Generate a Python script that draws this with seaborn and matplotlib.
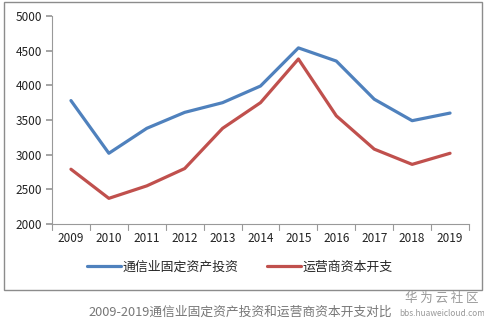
import matplotlib
matplotlib.use("Agg")
import matplotlib.pyplot as plt
import seaborn as sns
import pandas as pd
from matplotlib.patches import Rectangle

years = ["2009", "2010", "2011", "2012", "2013", "2014", "2015", "2016", "2017", "2018", "2019"]
telecom_invest = [3780, 3020, 3380, 3610, 3750, 3990, 4540, 4350, 3800, 3490, 3600]
operator_capex = [2790, 2370, 2550, 2800, 3380, 3750, 4380, 3560, 3080, 2860, 3020]
series_names = ["通信业固定资产投资", "运营商资本开支"]
yticks = [2000, 2500, 3000, 3500, 4000, 4500, 5000]
caption = "2009-2019通信业固定资产投资和运营商资本开支对比"

sns.set_theme(style="white")
plt.rcParams['font.family'] = ['Noto Sans CJK SC', 'DejaVu Sans']

df = pd.DataFrame({
    "year": years * 2,
    "value": telecom_invest + operator_capex,
    "series": [series_names[0]] * len(years) + [series_names[1]] * len(years),
})
df["x"] = list(range(len(years))) * 2

W, H = 485, 329
fig = plt.figure(figsize=(W / 100, H / 100), dpi=100)
fig.patches.append(Rectangle((4 / W, 1 - 290 / H), 478 / W, 288 / H, transform=fig.transFigure,
                             fill=False, edgecolor="#8c8c8c", linewidth=1.0))

ax = fig.add_axes([52 / W, 1 - 224 / H, (469 - 52) / W, (224 - 16) / H])
palette = {series_names[0]: "#4F81BD", series_names[1]: "#C0504D"}
sns.lineplot(data=df, x="x", y="value", hue="series", palette=palette, linewidth=2.3,
             ax=ax, legend=True)

ax.set_xlim(-0.5, len(years) - 0.5)
ax.set_ylim(2000, 5000)
ax.set_yticks(yticks)
ax.set_yticklabels([str(v) for v in yticks], fontsize=8.5, color="#222222")
ax.set_xticks(range(len(years)))
ax.set_xticklabels(years, fontsize=8.5, color="#222222")
ax.set_xlabel("")
ax.set_ylabel("")
ax.tick_params(axis="x", length=0, pad=6)
ax.tick_params(axis="y", length=4, left=True, color="#999999", pad=3)
for b in [i - 0.5 for i in range(len(years) + 1)]:
    ax.plot([b, b], [0, -0.03], transform=ax.get_xaxis_transform(), color="#999999",
            linewidth=0.8, clip_on=False)
for s in ["top", "right"]:
    ax.spines[s].set_visible(False)
for s in ["left", "bottom"]:
    ax.spines[s].set_color("#999999")
    ax.spines[s].set_linewidth(0.8)

leg = ax.legend(loc="center", bbox_to_anchor=(240 / W, 1 - 267 / H), bbox_transform=fig.transFigure,
                ncol=2, frameon=False, fontsize=9.3, handlelength=2.6, handletextpad=0.15,
                columnspacing=2.2)

fig.text(240 / W, 1 - 312 / H, caption, ha="center", va="center", fontsize=9.2, color="#777777")
fig.text(442 / W, 1 - 298 / H, "华 为 云 社 区", ha="center", va="center", fontsize=9, color="#999999")
fig.text(442 / W, 1 - 313 / H, "bbs.huaweicloud.com", ha="center", va="center", fontsize=6, color="#999999")

fig.savefig("out.png", dpi=100)
